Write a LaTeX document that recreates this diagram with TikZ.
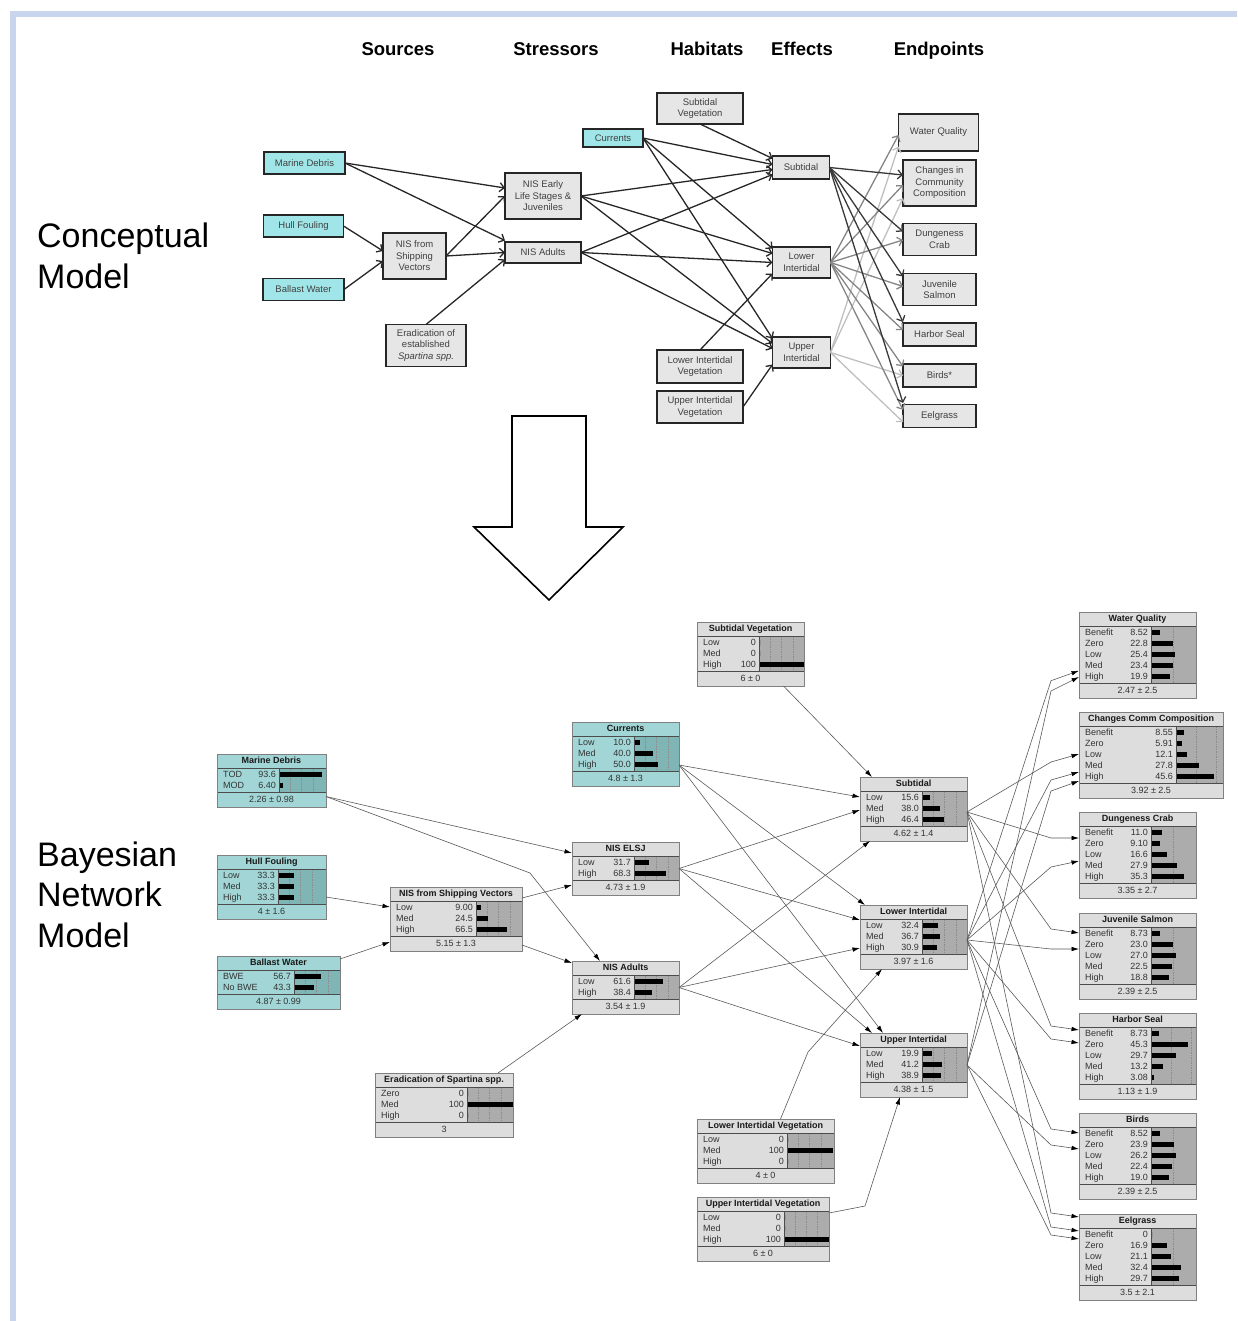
\documentclass[tikz,border=0pt]{standalone}
\usepackage{fontspec}
\setmainfont{Liberation Sans}
\usepackage{xcolor}
\usetikzlibrary{arrows.meta}

\definecolor{framecol}{HTML}{C8D5EC}
\definecolor{ccyanfill}{HTML}{A0E6E8}
\definecolor{cgreyfill}{HTML}{E6E6E6}
\definecolor{bncyan}{HTML}{A2D6D6}
\definecolor{bncyanbar}{HTML}{80B5B5}
\definecolor{bngrey}{HTML}{DDDDDD}
\definecolor{bngreybar}{HTML}{ACACAC}

\newcommand{\concfont}{\fontsize{9.5}{11.5}\selectfont}
\newcommand{\bnfont}{\fontsize{9}{10}\selectfont}
\newcommand{\headfont}{\bfseries\fontsize{18.5}{22}\selectfont}
\newcommand{\modelfont}{\fontsize{34}{40.5}\selectfont}

\tikzset{
  head/.style={font=\headfont, inner sep=0pt, text height=13.5pt, text depth=4pt},
  model/.style={font=\modelfont, align=left, anchor=west, inner sep=0pt},
  cbox/.style={draw=black!85, line width=1.3pt, fill=cgreyfill, font=\concfont,
    text=black!75, align=center, inner sep=0pt, outer sep=0pt},
  ccyan/.style={cbox, fill=ccyanfill},
  carrow/.style={-{Straight Barb[length=4.5pt,width=9pt]}, line width=1.3pt, draw=black!85},
  cdark/.style={carrow, draw=black!78},
  cmid/.style={carrow, draw=black!48},
  clight/.style={carrow, draw=black!25},
  bnframe/.style={fill=bn#1, draw=none, inner sep=0pt, outer sep=0pt},
  bnborder/.style={draw=black!50, line width=0.8pt},
  bnsep/.style={draw=black!70, line width=0.7pt},
  bngrid/.style={draw=black!45, dash pattern=on 1.5pt off 1pt, line width=0.4pt},
  bntext/.style={font=\bnfont, text=black!80, inner sep=0pt, text height=6.5pt, text depth=1.5pt},
  bntitle/.style={bntext, font=\bnfont\bfseries, text=black!90},
  bnedge/.style={draw=black!65, line width=0.6pt, -{Latex[length=7.5pt,width=4.5pt,color=black]}},
}

% one node of the network: name, colour, top left, width, bar start, bar scale,
% title, states, mean
\newcommand{\bnnode}[9]{%
  \foreach \lab/\val [count=\i] in {#8} {\xdef\bnnrows{\i}}
  \pgfmathsetmacro{\bnh}{31+11*\bnnrows}
  \pgfmathsetmacro{\bnt}{16+11*\bnnrows}
  \node[bnframe=#2, minimum width=#4pt, minimum height=\bnh pt, anchor=north west] (#1) at (#3) {};
  \begin{scope}[shift={(#1.north west)}]
    \fill[bn#2bar] (#5,14) rectangle (#4,\bnt);
    \foreach \g in {25,50,75} {
      \pgfmathtruncatemacro{\gok}{(\g*#6 < #4-#5-3) ? 1 : 0}
      \ifnum\gok=1 \draw[bngrid] (#5+\g*#6,14) -- (#5+\g*#6,\bnt); \fi
    }
    \draw[bnsep] (0,14) -- (#4,14) (0,\bnt) -- (#4,\bnt) (#5,14) -- (#5,\bnt);
    \node[bntitle] (#1-title) at (#4/2,7) {#7};
    \foreach \lab/\val [count=\i] in {#8} {
      \node[bntext, anchor=west] (#1-lab\i) at (6,9.5+11*\i) {\lab};
      \node[bntext, anchor=east] (#1-val\i) at (#5-3,9.5+11*\i) {\val};
      \fill (#5+1,7+11*\i) rectangle (#5+1+\val*#6,12+11*\i);
    }
    \node[bntext] (#1-foot) at (#4/2,\bnt+7.5) {#9};
    \draw[bnborder] (0,0) rectangle (#4,\bnh);
  \end{scope}
}

\begin{document}
\begin{tikzpicture}[x=1pt,y=-1pt]
\useasboundingbox (0,0) rectangle (1237,1321);

% frame
\fill[framecol] (10,11) rectangle (1237,17);
\fill[framecol] (10,11) rectangle (16,1321);

% headings
\node[head] (hsrc) at (398,51) {Sources};
\node[head] (hstr) at (556,51) {Stressors};
\node[head] (hhab) at (707,51) {Habitats};
\node[head] (heff) at (802,51) {Effects};
\node[head] (hend) at (939,51) {Endpoints};

\node[model] (lconc) at (37,256) {Conceptual\\Model};
\node[model] (lbayes) at (37,894.5) {Bayesian\\Network\\Model};

% conceptual model
\node[ccyan, minimum width=81pt, minimum height=22pt] (cmd) at (304.5,163) {Marine Debris};
\node[ccyan, minimum width=80pt, minimum height=22pt] (chf) at (303.5,226) {Hull Fouling};
\node[ccyan, minimum width=81pt, minimum height=22pt] (cbw) at (303.5,289.5) {Ballast Water};
\node[cbox, minimum width=63pt, minimum height=46pt] (csv) at (414.5,256) {NIS from\\Shipping\\Vectors};
\node[cbox, minimum width=80pt, minimum height=42pt] (cer) at (426,345.5) {Eradication of\\established\\\textit{Spartina spp.}};
\node[cbox, minimum width=76pt, minimum height=46pt] (celsj) at (543,196) {NIS Early\\Life Stages \&\\Juveniles};
\node[cbox, minimum width=76pt, minimum height=21pt] (cad) at (543,252.5) {NIS Adults};
\node[ccyan, minimum width=60pt, minimum height=18pt] (ccu) at (613,138) {Currents};
\node[cbox, minimum width=86pt, minimum height=31pt] (csubveg) at (700,108.5) {Subtidal\\Vegetation};
\node[cbox, minimum width=57pt, minimum height=23pt] (cst) at (801,167.5) {Subtidal};
\node[cbox, minimum width=58pt, minimum height=31pt] (cli) at (801.5,262.5) {Lower\\Intertidal};
\node[cbox, minimum width=58pt, minimum height=31pt] (cui) at (801.5,352.5) {Upper\\Intertidal};
\node[cbox, minimum width=86pt, minimum height=33pt] (cliveg) at (700,366.5) {Lower Intertidal\\Vegetation};
\node[cbox, minimum width=86pt, minimum height=32pt] (cuiveg) at (700,407) {Upper Intertidal\\Vegetation};
\node[cbox, minimum width=80pt, minimum height=37pt] (cwq) at (938.5,132.5) {Water Quality};
\node[cbox, minimum width=73pt, minimum height=46pt] (ccc) at (939.5,183) {Changes in\\Community\\Composition};
\node[cbox, minimum width=73pt, minimum height=32pt] (cdc) at (939.5,239.5) {Dungeness\\Crab};
\node[cbox, minimum width=73pt, minimum height=32pt] (cjs) at (939.5,289.5) {Juvenile\\Salmon};
\node[cbox, minimum width=73pt, minimum height=23pt] (chs) at (939.5,334.5) {Harbor Seal};
\node[cbox, minimum width=73pt, minimum height=23pt] (cbi) at (939.5,375.5) {Birds*};
\node[cbox, minimum width=73pt, minimum height=23pt] (ceg) at (939.5,416) {Eelgrass};

\draw[carrow] (cmd.east) -- ([shift={(0,-8)}]celsj.west);
\draw[carrow] (cmd.east) -- ([shift={(0,-12)}]cad.west);
\draw[carrow] (chf.east) -- ([shift={(0,-5)}]csv.west);
\draw[carrow] (cbw.east) -- ([shift={(0,5)}]csv.west);
\draw[carrow] (csv.east) -- (celsj.west);
\draw[carrow] (csv.east) -- (cad.west);
\draw[carrow] (cer.north) -- ([shift={(0,7)}]cad.west);

\draw[carrow] (csubveg.south) -- ([shift={(0,-9)}]cst.west);
\draw[carrow] (ccu.east) -- ([shift={(0,-3)}]cst.west);
\draw[carrow] (celsj.east) -- ([shift={(0,2)}]cst.west);
\draw[carrow] (cad.east) -- ([shift={(0,7)}]cst.west);
\draw[carrow] (ccu.east) -- ([shift={(0,-14)}]cli.west);
\draw[carrow] (celsj.east) -- ([shift={(0,-9)}]cli.west);
\draw[carrow] (cad.east) -- (cli.west);
\draw[carrow] (cliveg.north) -- ([shift={(0,11)}]cli.west);
\draw[carrow] (ccu.east) -- ([shift={(0,-14)}]cui.west);
\draw[carrow] (celsj.east) -- ([shift={(0,-9)}]cui.west);
\draw[carrow] (cad.east) -- ([shift={(0,-4)}]cui.west);
\draw[carrow] (cuiveg.east) -- ([shift={(0,12)}]cui.west);

% effects on endpoints
\foreach \to/\dy in {cwq/14, ccc/15, cbi/0, ceg/6}
  \draw[clight] (cui.east) -- ([shift={(0,\dy)}]\to.west);
\foreach \to/\dy in {cwq/2.5, ccc/2, cdc/0.5, cjs/-3, chs/-4.5, cbi/-9, ceg/-6}
  \draw[cmid] (cli.east) -- ([shift={(0,\dy)}]\to.west);
\foreach \to/\dy in {ccc/-8, cdc/-8, cjs/-13, chs/-12.5, ceg/-13}
  \draw[cdark] (cst.east) -- ([shift={(0,\dy)}]\to.west);

% big arrow
\draw[line width=1.6pt, fill=white] (512,416) -- (586,416) -- (586,527) -- (623,527)
  -- (549,600) -- (474,527) -- (512,527) -- cycle;

% bayesian network
\bnnode{md}{cyan}{217,754}{109}{62}{0.45}{Marine Debris}{TOD/93.6, MOD/6.40}{2.26 ± 0.98}
\bnnode{hf}{cyan}{217,855}{109}{61}{0.45}{Hull Fouling}{Low/33.3, Med/33.3, High/33.3}{4 ± 1.6}
\bnnode{bw}{cyan}{217,956}{123}{77}{0.45}{Ballast Water}{BWE/56.7, No BWE/43.3}{4.87 ± 0.99}
\bnnode{sv}{grey}{390,887}{132}{86}{0.45}{NIS from Shipping Vectors}{Low/9.00, Med/24.5, High/66.5}{5.15 ± 1.3}
\bnnode{er}{grey}{375,1073}{138}{92}{0.45}{Eradication of Spartina spp.}{Zero/0, Med/100, High/0}{3}
\bnnode{subveg}{grey}{697,622}{107}{62}{0.45}{Subtidal Vegetation}{Low/0, Med/0, High/100}{6 ± 0}
\bnnode{cu}{cyan}{572,722}{107}{62}{0.45}{Currents}{Low/10.0, Med/40.0, High/50.0}{4.8 ± 1.3}
\bnnode{elsj}{grey}{572,842}{107}{62}{0.45}{NIS ELSJ}{Low/31.7, High/68.3}{4.73 ± 1.9}
\bnnode{ad}{grey}{572,961}{107}{62}{0.45}{NIS Adults}{Low/61.6, High/38.4}{3.54 ± 1.9}
\bnnode{st}{grey}{860,777}{107}{62}{0.45}{Subtidal}{Low/15.6, Med/38.0, High/46.4}{4.62 ± 1.4}
\bnnode{li}{grey}{860,905}{107}{62}{0.45}{Lower Intertidal}{Low/32.4, Med/36.7, High/30.9}{3.97 ± 1.6}
\bnnode{ui}{grey}{860,1033}{107}{62}{0.45}{Upper Intertidal}{Low/19.9, Med/41.2, High/38.9}{4.38 ± 1.5}
\bnnode{liveg}{grey}{697,1119}{137}{90}{0.45}{Lower Intertidal Vegetation}{Low/0, Med/100, High/0}{4 ± 0}
\bnnode{uiveg}{grey}{697,1197}{132}{87}{0.44}{Upper Intertidal Vegetation}{Low/0, Med/0, High/100}{6 ± 0}
\bnnode{wq}{grey}{1079,612}{117}{72}{0.9}{Water Quality}{Benefit/8.52, Zero/22.8, Low/25.4, Med/23.4, High/19.9}{2.47 ± 2.5}
\bnnode{cc}{grey}{1079,712}{144}{97}{0.8}{Changes Comm Composition}{Benefit/8.55, Zero/5.91, Low/12.1, Med/27.8, High/45.6}{3.92 ± 2.5}
\bnnode{dc}{grey}{1079,812}{117}{72}{0.9}{Dungeness Crab}{Benefit/11.0, Zero/9.10, Low/16.6, Med/27.9, High/35.3}{3.35 ± 2.7}
\bnnode{js}{grey}{1079,913}{117}{72}{0.9}{Juvenile Salmon}{Benefit/8.73, Zero/23.0, Low/27.0, Med/22.5, High/18.8}{2.39 ± 2.5}
\bnnode{hs}{grey}{1079,1013}{117}{72}{0.8}{Harbor Seal}{Benefit/8.73, Zero/45.3, Low/29.7, Med/13.2, High/3.08}{1.13 ± 1.9}
\bnnode{bi}{grey}{1079,1113}{117}{72}{0.9}{Birds}{Benefit/8.52, Zero/23.9, Low/26.2, Med/22.4, High/19.0}{2.39 ± 2.5}
\bnnode{eg}{grey}{1079,1214}{117}{72}{0.9}{Eelgrass}{Benefit/0, Zero/16.9, Low/21.1, Med/32.4, High/29.7}{3.5 ± 2.1}

% links
\coordinate (mdbend) at (530,873);
\coordinate (livegbend) at (808,1052);
\coordinate (uivegbend) at (865,1206);
\draw[bnedge] ([shift={(0,16)}]md.east) -- ([shift={(0,-15.5)}]elsj.west);
\draw[bnedge] ([shift={(0,16)}]md.east) -- (mdbend) -- ([shift={(28,0)}]ad.north west);
\draw[bnedge] ([shift={(0,10)}]hf.east) -- ([shift={(0,-12)}]sv.west);
\draw[bnedge] ([shift={(0,3)}]bw.north east) -- ([shift={(0,23)}]sv.west);
\draw[bnedge] ([shift={(0,11)}]sv.north east) -- ([shift={(0,16.5)}]elsj.west);
\draw[bnedge] ([shift={(0,26)}]sv.east) -- ([shift={(0,2)}]ad.north west);
\draw[bnedge] ([shift={(-15,0)}]er.north east) -- ([shift={(10,0)}]ad.south west);
\draw[bnedge] ([shift={(33,0)}]subveg.south) -- ([shift={(12,0)}]st.north west);
\draw[bnedge] ([shift={(0,11)}]cu.east) -- ([shift={(0,-12)}]st.west);
\draw[bnedge] ([shift={(0,11)}]cu.east) -- ([shift={(5,0)}]li.north west);
\draw[bnedge] ([shift={(0,11)}]cu.east) -- ([shift={(23,0)}]ui.north west);
\draw[bnedge] (elsj.east) -- ([shift={(0,1)}]st.west);
\draw[bnedge] (elsj.east) -- ([shift={(0,-17)}]li.west);
\draw[bnedge] (elsj.east) -- ([shift={(12,0)}]ui.north west);
\draw[bnedge] (ad.east) -- ([shift={(10,0)}]st.south west);
\draw[bnedge] (ad.east) -- ([shift={(0,11)}]li.west);
\draw[bnedge] (ad.east) -- ([shift={(0,-19)}]ui.west);
\draw[bnedge] ([shift={(15,0)}]liveg.north) -- (livegbend) -- ([shift={(22,0)}]li.south west);
\draw[bnedge] ([shift={(0,-16)}]uiveg.east) -- (uivegbend) -- ([shift={(40,0)}]ui.south west);

\coordinate (st-out) at ([shift={(0,3)}]st.east);
\coordinate (li-out) at ([shift={(0,3)}]li.east);
\coordinate (ui-out) at (ui.east);
\coordinate (wq-in1) at ([shift={(0,15.7)}]wq.west);
\coordinate (wq-in2) at ([shift={(0,22)}]wq.west);
\coordinate (cc-in1) at ([shift={(0,-1)}]cc.west);
\coordinate (cc-in2) at ([shift={(0,17)}]cc.west);
\coordinate (cc-in3) at ([shift={(0,26)}]cc.west);
\coordinate (dc-in1) at ([shift={(0,-17)}]dc.west);
\coordinate (dc-in2) at ([shift={(0,6)}]dc.west);
\coordinate (js-in1) at ([shift={(0,-23)}]js.west);
\coordinate (js-in2) at ([shift={(0,-7)}]js.west);
\coordinate (hs-in1) at ([shift={(0,-26)}]hs.west);
\coordinate (hs-in2) at ([shift={(0,-13)}]hs.west);
\coordinate (bi-in1) at ([shift={(0,-23)}]bi.west);
\coordinate (bi-in2) at ([shift={(0,-7)}]bi.west);
\coordinate (eg-in1) at ([shift={(0,-40)}]eg.west);
\coordinate (eg-in2) at ([shift={(0,-26)}]eg.west);
\coordinate (eg-in3) at ([shift={(0,-18)}]eg.west);

\foreach \from/\to/\dy in {st-out/cc-in1/8, st-out/dc-in1/0, st-out/js-in1/-4,
    st-out/hs-in1/-4, st-out/eg-in1/-4, li-out/wq-in1/10, ui-out/wq-in2/14,
    li-out/cc-in2/8, ui-out/cc-in3/10, li-out/dc-in2/6, li-out/js-in2/0,
    li-out/hs-in2/-4, li-out/bi-in1/-4, ui-out/bi-in2/-4, li-out/eg-in2/-4,
    ui-out/eg-in3/-4}
  \draw[bnedge] (\from) -- ([shift={(-28,\dy)}]\to) -- (\to);
\end{tikzpicture}
\end{document}
